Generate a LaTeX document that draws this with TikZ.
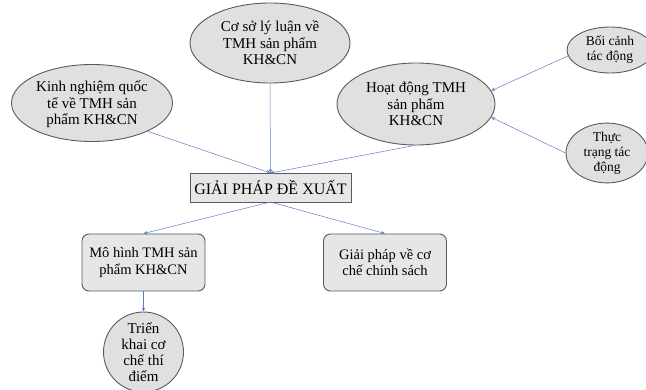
\documentclass[tikz,border=0pt]{standalone}
\usepackage{fontspec}
\setmainfont{LiberationSerif-Regular.ttf}
\usetikzlibrary{shapes.geometric,arrows.meta}
\definecolor{fillg}{HTML}{E0E0E0}
\definecolor{boxg}{HTML}{E6E6E6}
\definecolor{edgeg}{HTML}{5A5A5A}
\definecolor{arr}{HTML}{5B7FC4}
\tikzset{
  ell/.style={ellipse, draw=edgeg, line width=0.9pt, fill=fillg, inner sep=0pt, align=center, font=\fontsize{15}{16.5}\selectfont},
  sell/.style={ellipse, draw=edgeg, line width=0.9pt, fill=fillg, inner sep=0pt, align=center, font=\fontsize{13.5}{15}\selectfont},
  rbox/.style={rectangle, rounded corners=7pt, draw=edgeg, line width=0.9pt, fill=boxg, minimum width=123pt, minimum height=57pt, inner sep=0pt, align=center, font=\fontsize{14.5}{16.5}\selectfont},
  conn/.style={draw=arr, line width=0.5pt, -{Stealth[length=4pt,width=3.5pt]}}
}
\begin{document}
\begin{tikzpicture}[x=1pt,y=-1pt]
\useasboundingbox (0,0) rectangle (646,390);
\node[ell, minimum width=160pt, minimum height=80pt] (coso) at (270,43) {Cơ sở lý luận về\\TMH sản phẩm\\KH\&CN};
\node[ell, minimum width=161pt, minimum height=77pt, text depth=-2pt] (kinh) at (92,103) {Kinh nghiệm quốc\\tế về TMH sản\\phẩm KH\&CN};
\node[ell, minimum width=158pt, minimum height=82pt] (hoat) at (416,104) {Hoạt động TMH\\sản phẩm\\KH\&CN};
\node[sell, minimum width=86pt, minimum height=46pt] (boi) at (610,50) {Bối cảnh\\tác động};
\node[sell, minimum width=82pt, minimum height=45pt] (thuc) at (607,153) {Thực\\trạng tác\\động};
\node[rectangle, draw=edgeg, line width=0.9pt, fill=boxg, minimum width=161pt, minimum height=29pt, inner sep=0pt, font=\fontsize{16}{18}\selectfont] (gp) at (270.5,187.5) {GIẢI PHÁP ĐỀ XUẤT};
\node[rbox] (mohinh) at (143.5,262.5) {Mô hình TMH sản\\phẩm KH\&CN};
\node[rbox] (cche) at (385,262.5) {Giải pháp về cơ\\chế chính sách};
\node[circle, draw=edgeg, line width=0.9pt, fill=fillg, minimum size=80pt, inner sep=0pt, align=center, font=\fontsize{15}{16}\selectfont] (trien) at (143.5,352) {Triển\\khai cơ\\chế thí\\điểm};
\coordinate (gtop) at (270.5,173);
\coordinate (gbot) at (270.5,202);
\draw[conn] (kinh.-27) -- (gtop);
\draw[conn] (coso.south) -- (gtop);
\draw[conn] (hoat.-92) -- (gtop);
\draw[conn] (boi.188) -- (hoat.10);
\draw[conn] (thuc.180) -- (hoat.-10);
\draw[conn] (gbot) -- (mohinh.north);
\draw[conn] (gbot) -- (cche.north);
\draw[conn] (mohinh.south) -- (trien.north);
\end{tikzpicture}
\end{document}
